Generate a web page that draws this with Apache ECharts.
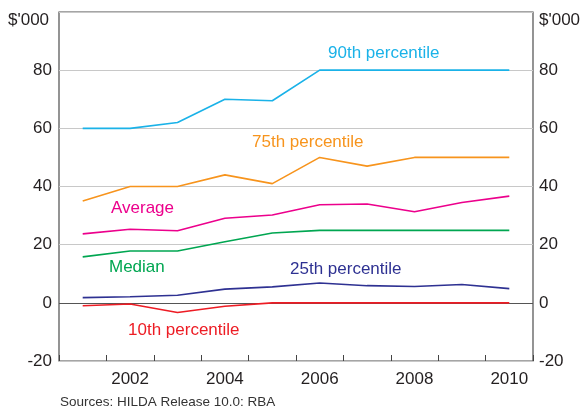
<!DOCTYPE html>
<html lang="en">
<head>
<meta charset="UTF-8">
<title>Household wealth percentiles</title>
<style>
  html, body { margin: 0; padding: 0; background: #fff; }
  #chart { width: 581px; height: 408px; }
</style>
</head>
<body>
<div id="chart"></div>
<script src="https://cdn.jsdelivr.net/npm/echarts@6/dist/echarts.min.js"></script>
<script>
// years (financial survey waves)
const years = ['2001', '2002', '2003', '2004', '2005', '2006', '2007', '2008', '2009', '2010'];
// $'000
const p90 = [60, 60, 62, 70, 69.5, 80, 80, 80, 80, 80];
const p75 = [35, 40, 40, 44, 41, 50, 47, 50, 50, 50];
const average = [23.7, 25.3, 24.8, 29.1, 30.2, 33.7, 34.0, 31.3, 34.5, 36.7];
const median = [15.8, 17.8, 17.8, 21, 24, 24.9, 24.9, 24.9, 24.9, 24.9];
const p25 = [1.8, 2.1, 2.6, 4.7, 5.5, 6.8, 5.9, 5.6, 6.3, 4.9];
const p10 = [-1, -0.4, -3.3, -1.2, 0, 0, 0, 0, 0, 0];
const yTicks = [-20, 0, 20, 40, 60, 80, 100];

const font = 'Liberation Sans, Arial, sans-serif';
const fs = 17;

const chart = echarts.init(document.getElementById('chart'));

function line(name, data, color) {
    return {
        name: name,
        type: 'line',
        data: data,
        symbol: 'none',
        lineStyle: { color: color, width: 1.6 },
        z: 3
    };
}

function note(text, left, top, color, size) {
    return {
        type: 'text', left: left, top: top,
        style: { text: text, fontSize: size || fs, fontFamily: font, fill: color }
    };
}

const yAxisBase = {
    type: 'value',
    min: yTicks[0],
    max: yTicks[yTicks.length - 1],
    interval: 20,
    axisLine: { show: false },
    axisTick: { show: false },
    axisLabel: {
        color: '#231f20',
        fontSize: fs,
        fontFamily: font,
        formatter: v => (v === 100 ? '' : String(v))
    }
};

const option = {
    animation: false,
    grid: {
        left: 59, right: 48, top: 12, bottom: 47,
        show: true, borderColor: '#4d4d4d', borderWidth: 1.2
    },
    xAxis: {
        type: 'category',
        data: years,
        boundaryGap: true,
        axisLine: { show: false, onZero: false },
        axisTick: {
            show: true, inside: true, length: 6,
            interval: 0, lineStyle: { color: '#444' }
        },
        axisLabel: {
            color: '#231f20', fontSize: fs, fontFamily: font, margin: 10,
            interval: (i) => i % 2 === 1
        },
        splitLine: { show: false }
    },
    yAxis: [
        Object.assign({}, yAxisBase, {
            position: 'left',
            axisLabel: Object.assign({}, yAxisBase.axisLabel, { margin: 7 }),
            splitLine: { show: true, lineStyle: { color: '#c8c8c8', width: 1 } }
        }),
        Object.assign({}, yAxisBase, {
            position: 'right',
            axisLabel: Object.assign({}, yAxisBase.axisLabel, { margin: 6 }),
            splitLine: { show: false }
        })
    ],
    series: [
        Object.assign(line('10th percentile', p10, '#ed1c24'), {
            markLine: {
                silent: true,
                symbol: 'none',
                label: { show: false },
                lineStyle: { color: '#555', type: 'solid', width: 1.2 },
                data: [{ yAxis: 0 }],
                z: 2
            }
        }),
        line('25th percentile', p25, '#2e3192'),
        line('Median', median, '#00a651'),
        line('Average', average, '#ec008c'),
        line('75th percentile', p75, '#f7941d'),
        line('90th percentile', p90, '#1ab2e8')
    ],
    graphic: [
        note("$'000", 8, 12, '#231f20'),
        note("$'000", 539, 12, '#231f20'),
        note('90th percentile', 328, 45, '#1ab2e8'),
        note('75th percentile', 252, 134, '#f7941d'),
        note('Average', 111, 200, '#ec008c'),
        note('Median', 109, 259, '#00a651'),
        note('25th percentile', 290, 261, '#2e3192'),
        note('10th percentile', 128, 322, '#ed1c24'),
        note('Sources: HILDA Release 10.0: RBA', 60, 395, '#333', 13.5)
    ]
};

chart.setOption(option);
</script>
</body>
</html>
